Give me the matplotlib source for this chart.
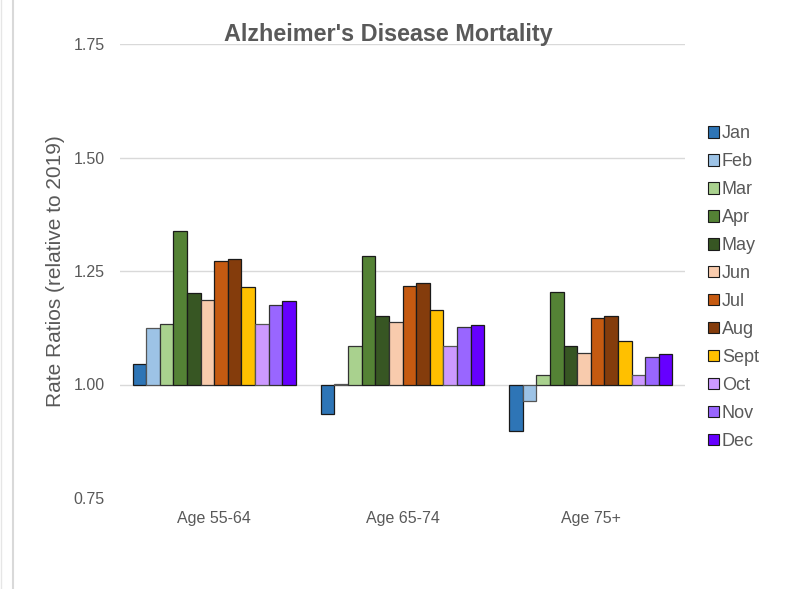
import matplotlib
matplotlib.use("Agg")
import matplotlib.pyplot as plt
import numpy as np
from matplotlib.lines import Line2D
from matplotlib.patches import Patch

plt.rcParams['font.family'] = ['Liberation Sans', 'DejaVu Sans']

categories = ["Age 55-64", "Age 65-74", "Age 75+"]
months = ["Jan", "Feb", "Mar", "Apr", "May", "Jun", "Jul", "Aug", "Sept", "Oct", "Nov", "Dec"]
colors = ["#2E75B6", "#9DC3E6", "#A9D18E", "#548235", "#375623", "#F8CBAD",
          "#C55A11", "#843C0C", "#FFC000", "#CC99FF", "#9966FF", "#6600FF"]

jan = [1.046, 0.934, 0.898]
feb = [1.125, 1.002, 0.963]
mar = [1.133, 1.084, 1.020]
apr = [1.339, 1.283, 1.204]
may = [1.201, 1.151, 1.084]
jun = [1.187, 1.137, 1.070]
jul = [1.271, 1.218, 1.146]
aug = [1.277, 1.223, 1.151]
sept = [1.214, 1.164, 1.096]
oct_ = [1.133, 1.084, 1.020]
nov = [1.175, 1.127, 1.060]
dec = [1.184, 1.132, 1.067]
series = [jan, feb, mar, apr, may, jun, jul, aug, sept, oct_, nov, dec]

yticks = [0.75, 1.00, 1.25, 1.50, 1.75]

fig = plt.figure(figsize=(8.08, 5.89), dpi=100)
ax = fig.add_axes([120/808, 1-498/589, (685-120)/808, (498-44)/589])

gray = "#595959"
x = np.arange(len(categories))
n = len(series)
group_w = 0.867
w = group_w / n
edge_cols = ["#1a1a1a", "#555555", "#333333", "#1a1a1a", "#1a1a1a", "#333333",
             "#1a1a1a", "#1a1a1a", "#1a1a1a", "#555555", "#333333", "#1a1a1a"]
for i, (vals, c) in enumerate(zip(series, colors)):
    pos = x - group_w/2 + w*(i+0.5)
    v = np.array(vals)
    ax.bar(pos, v - 1.0, width=w, bottom=1.0, color=c, edgecolor=edge_cols[i],
           linewidth=0.9, zorder=3)

ax.set_xlim(-0.5, 2.5)
ax.set_ylim(0.75, 1.75)
ax.set_yticks(yticks)
ax.set_yticklabels([f"{t:.2f}" for t in yticks], color=gray, fontsize=11.5)
for t in yticks[1:]:
    ax.axhline(t, color="#d9d9d9", linewidth=1, zorder=1)
ax.set_xticks(x)
ax.set_xticklabels(categories, color=gray, fontsize=11.5)
ax.tick_params(axis="y", length=0, pad=11)
ax.tick_params(axis="x", length=0, pad=9)
for s in ax.spines.values():
    s.set_visible(False)

ax.set_ylabel("Rate Ratios (relative to 2019)", color=gray, fontsize=15, labelpad=6)

fig.text(388/808, 1-34/589, "Alzheimer's Disease Mortality", ha="center", va="center",
         fontsize=16.8, fontweight="bold", color=gray)

handles = [Patch(facecolor=c, edgecolor="#1a1a1a", linewidth=0.8) for c in colors]
leg = fig.legend(handles, months, loc="upper left", bbox_to_anchor=(692/808, 1-109/589),
                 frameon=False, fontsize=13, labelcolor=gray, handlelength=0.61,
                 handleheight=0.61, handletextpad=0.15, labelspacing=0.607)

fig.add_artist(Line2D([13/808, 13/808], [0, 1], transform=fig.transFigure,
                      color="#d9d9d9", linewidth=1.5))
fig.add_artist(Line2D([1/808, 1/808], [0, 1], transform=fig.transFigure,
                      color="#e6e6e6", linewidth=1))

fig.savefig("out.png", dpi=100)
